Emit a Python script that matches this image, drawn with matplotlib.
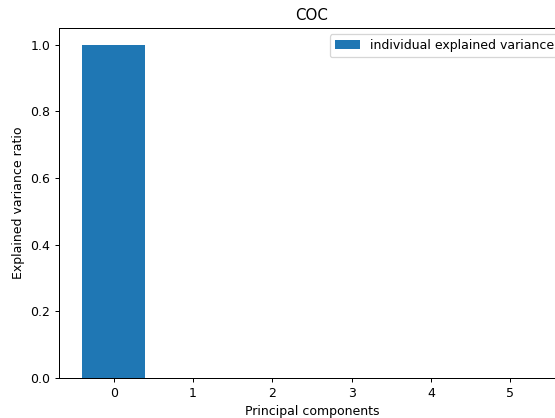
import matplotlib
matplotlib.use("Agg")
import matplotlib.pyplot as plt

components = [0, 1, 2, 3, 4, 5]
explained_variance = [0.9999, 0.00005, 0.00002, 0.00001, 0.000005, 0.000002]

W, H = 555, 418
DPI = 90
fig = plt.figure(figsize=(W / DPI, H / DPI), dpi=DPI)
ax = fig.add_axes([59 / W, (H - 378) / H, 506 / W, 350 / H])
ax.bar(components, explained_variance, alpha=1.0, align='center',
       label='individual explained variance')
ax.set_ylabel('Explained variance ratio')
ax.set_xlabel('Principal components')
ax.set_title('COC')
ax.legend(loc='upper right')
fig.savefig('out.png', dpi=DPI)
